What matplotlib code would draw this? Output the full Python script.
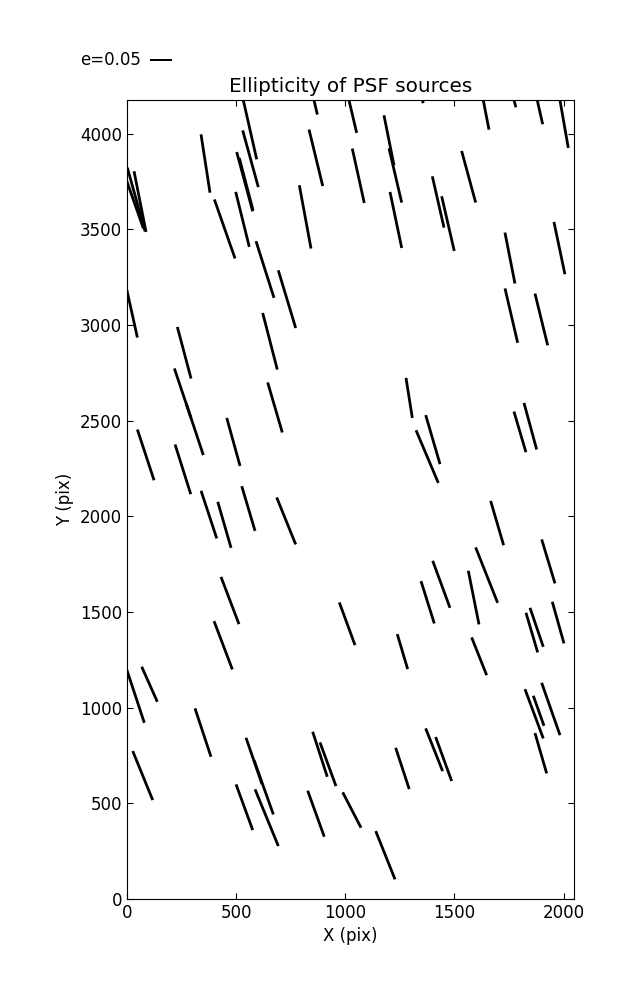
import numpy as np
import matplotlib
matplotlib.use('Agg')
import matplotlib.pyplot as plt

plt.rcParams['font.family'] = ['DejaVu Sans']
plt.rcParams['font.size'] = 12
plt.rcParams['xtick.direction'] = 'in'
plt.rcParams['ytick.direction'] = 'in'
plt.rcParams['xtick.top'] = True
plt.rcParams['ytick.right'] = True

# source positions on the chip (pix)
x = [560.7, 858.5, 359.6, 565.7, 539.2, 546.0, 865.3, 42.1, 59.6, 35.3,
     447.6, 529.1, 816.3, 632.2, 1023.4, 1353.6, 1636.7, 1772.8, 1882.3, 1998.2,
     1200.2, 1229.5, 1059.6, 1565.3, 1231.8, 1425.6, 1470.5, 1754.5, 1981.2, 733.0,
     20.2, 262.0, 655.1, 255.2, 310.1, 678.0, 1760.9, 1898.3, 1292.7, 1401.3,
     1800.3, 1847.9, 487.4, 85.7, 256.1, 375.2, 446.2, 556.1, 729.3, 1375.2,
     1695.8, 1440.2, 1588.2, 1647.7, 1930.4, 471.8, 440.7, 1008.7, 103.1, 37.6,
     348.1, 884.1, 1377.5, 1262.0, 1613.4, 1854.8, 1876.8, 1975.3, 1865.3, 1886.0,
     1941.8, 1896.0, 1407.2, 1450.8, 1262.0, 1030.2, 1183.7, 71.9, 581.8, 626.2,
     537.8, 640.0, 865.8, 920.8]
y = [4034.5, 4166.0, 3844.0, 3869.0, 3749.0, 3736.0, 3874.0, 3656.0, 3645.0, 3634.0,
     3502.0, 3552.0, 3565.0, 3290.0, 4144.0, 4175.0, 4149.0, 4176.0, 4161.4, 4080.0,
     3965.5, 3781.6, 3780.0, 3775.0, 3549.0, 3643.0, 3530.0, 3350.0, 3402.0, 3135.0,
     3075.0, 2855.0, 2915.0, 2643.0, 2456.0, 2569.0, 3049.0, 3029.0, 2619.0, 2401.0,
     2441.5, 2471.0, 2389.0, 2321.0, 2245.6, 2009.0, 1955.6, 2040.8, 1976.0, 2312.4,
     1965.0, 1644.7, 1575.2, 1692.8, 1764.4, 1560.0, 1326.0, 1438.4, 1122.3, 1064.8,
     869.9, 756.5, 1550.7, 1293.1, 1268.5, 1392.4, 1420.0, 1444.6, 968.1, 983.8,
     993.2, 761.8, 780.0, 731.5, 682.3, 465.0, 228.8, 645.2, 721.5, 584.1,
     479.6, 424.8, 445.7, 704.3]

# ellipticity components of each source
ex = [-0.034, -0.0137, -0.0209, -0.0363, -0.0372, -0.0319, -0.0319, -0.0412, -0.0279, -0.0400,
      -0.0481, -0.0316, -0.0272, -0.0419, -0.0293, -0.0037, -0.0221, -0.0093, -0.0226, -0.0240,
      -0.0233, -0.0295, -0.0279, -0.0326, -0.0272, -0.0272, -0.0293, -0.0233, -0.0256, -0.0405,
      -0.0277, -0.0319, -0.0340, -0.0388, -0.0402, -0.0340, -0.0295, -0.0295, -0.0147, -0.0333,
      -0.0279, -0.0295, -0.0309, -0.0388, -0.0365, -0.0365, -0.0309, -0.0309, -0.0442, -0.0519,
      -0.0302, -0.0402, -0.0249, -0.0512, -0.0309, -0.0419, -0.0426, -0.0365, -0.0363, -0.0423,
      -0.0372, -0.0340, -0.0309, -0.0242, -0.0349, -0.0272, -0.0309, -0.0272, -0.0426, -0.0249,
      -0.0426, -0.0272, -0.0395, -0.0372, -0.0316, -0.0426, -0.0449, -0.0465, -0.0372, -0.0449,
      -0.0388, -0.0542, -0.0386, -0.0372]
ey = [0.150, 0.0588, 0.1356, 0.1319, 0.1379, 0.1216, 0.1312, 0.1479, 0.1412, 0.1142,
      0.1372, 0.1279, 0.1472, 0.1319, 0.1244, 0.014, 0.1140, 0.034, 0.0998, 0.1375,
      0.1163, 0.1263, 0.1265, 0.1200, 0.1303, 0.1193, 0.1272, 0.1186, 0.1217, 0.1342,
      0.1249, 0.1200, 0.1317, 0.1156, 0.1210, 0.1163, 0.1265, 0.1203, 0.0930, 0.1140,
      0.0944, 0.1084, 0.1116, 0.1179, 0.1156, 0.1107, 0.1070, 0.1040, 0.1093, 0.1226,
      0.1030, 0.1093, 0.1247, 0.1289, 0.1023, 0.1100, 0.1123, 0.0993, 0.0814, 0.1280,
      0.1126, 0.1047, 0.0984, 0.0814, 0.0877, 0.0921, 0.0907, 0.0968, 0.1147, 0.0698,
      0.1217, 0.0937, 0.0993, 0.1023, 0.0961, 0.0823, 0.1123, 0.1140, 0.1077, 0.1263,
      0.1063, 0.1319, 0.1070, 0.1016]

fig = plt.figure(figsize=(6.37, 10), dpi=100, facecolor='white')
ax = fig.add_axes([0.1994, 0.101, 0.7017, 0.799])

Q = ax.quiver(x, y, ex, ey, angles='uv', scale_units='inches', scale=0.05 / 0.215,
              pivot='middle', headwidth=0, headlength=0, headaxislength=0,
              width=0.0062, color='k')
# key: tail of the line sits at X for labelpos 'W'
ax.quiverkey(Q, 0.2355, 0.94, 0.05, 'e=0.05', labelpos='W', coordinates='figure',
             labelsep=0.09, fontproperties={'size': 12})

ax.set_xlim(0, 2048)
ax.set_ylim(0, 4176)
ax.set_xticks(np.arange(0, 2001, 500))
ax.set_yticks(np.arange(0, 4001, 500))
ax.tick_params(length=4)
ax.set_xlabel('X (pix)')
ax.set_ylabel('Y (pix)')
ax.set_title('Ellipticity of PSF sources', fontsize=14.4)

fig.savefig('out.png', dpi=100)
